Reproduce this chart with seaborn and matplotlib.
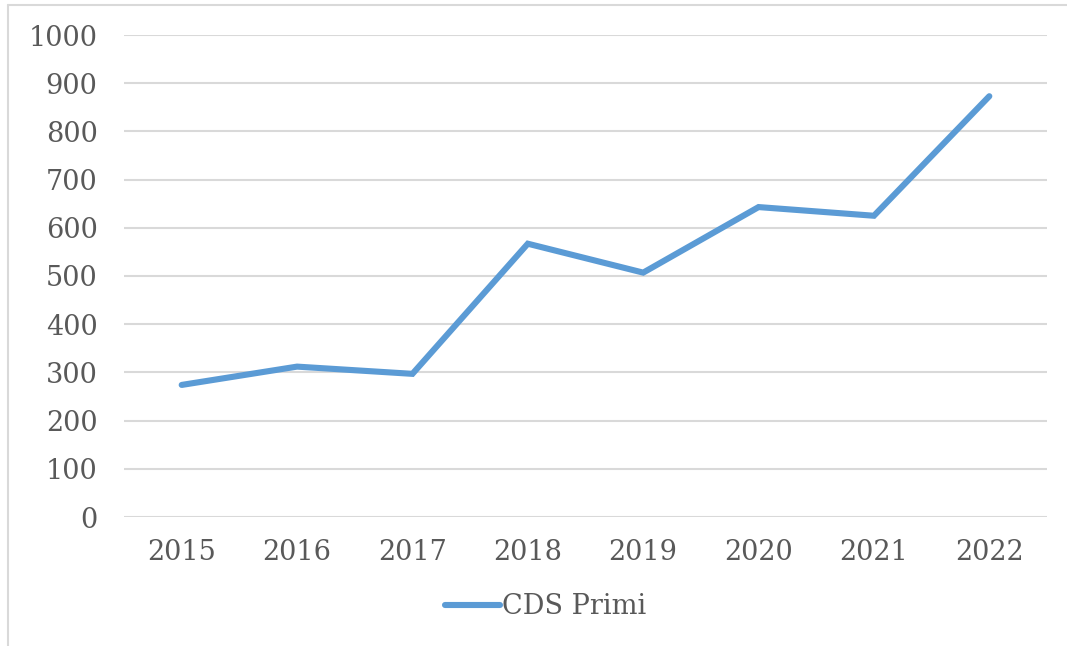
import matplotlib
matplotlib.use("Agg")
import matplotlib.pyplot as plt
import pandas as pd
import seaborn as sns
from matplotlib.lines import Line2D

years = ["2015", "2016", "2017", "2018", "2019", "2020", "2021", "2022"]
cds_primi = [274, 312, 297, 567, 507, 643, 625, 873]
y_ticks = [0, 100, 200, 300, 400, 500, 600, 700, 800, 900, 1000]
series_name = "CDS Primi"

df = pd.DataFrame({"Yil": years, series_name: cds_primi})

sns.set_style("white")
plt.rcParams["font.family"] = ["DejaVu Serif"]

W, H = 1067, 646
fig = plt.figure(figsize=(W / 100, H / 100), dpi=100)
ax = fig.add_axes([124 / W, 1 - 517 / H, (1047 - 124) / W, (517 - 35) / H])

sns.lineplot(data=df, x="Yil", y=series_name, ax=ax, color="#5B9BD5",
             linewidth=4.4, solid_capstyle="round", solid_joinstyle="miter",
             sort=False, zorder=3)

ax.set_xlim(-0.5, len(years) - 0.5)
ax.set_ylim(0, 1000)
ax.set_yticks(y_ticks)
ax.set_yticklabels([str(t) for t in y_ticks])
ax.yaxis.grid(True, color="#D9D9D9", linewidth=1.5)
ax.xaxis.grid(False)
ax.set_axisbelow(True)
for s in ax.spines.values():
    s.set_visible(False)
ax.set_xlabel("")
ax.set_ylabel("")
ax.tick_params(axis="both", length=0, labelsize=19.5, labelcolor="#595959")
ax.tick_params(axis="y", pad=19)
ax.tick_params(axis="x", pad=16)

handle = Line2D([], [], color="#5B9BD5", linewidth=4.4, solid_capstyle="round")
fig.legend([handle], [series_name], loc="center", bbox_to_anchor=(546 / W, 1 - 607 / H),
           frameon=False, fontsize=19.5, labelcolor="#595959", handlelength=2.0,
           handletextpad=0.1)

# chart area border (left and top edges visible)
fig.add_artist(Line2D([8 / W, 8 / W], [0, 1 - 5 / H], transform=fig.transFigure,
                      color="#D9D9D9", linewidth=1.5))
fig.add_artist(Line2D([8 / W, 1], [1 - 5 / H, 1 - 5 / H], transform=fig.transFigure,
                      color="#D9D9D9", linewidth=1.5))

fig.savefig("out.png", dpi=100)
